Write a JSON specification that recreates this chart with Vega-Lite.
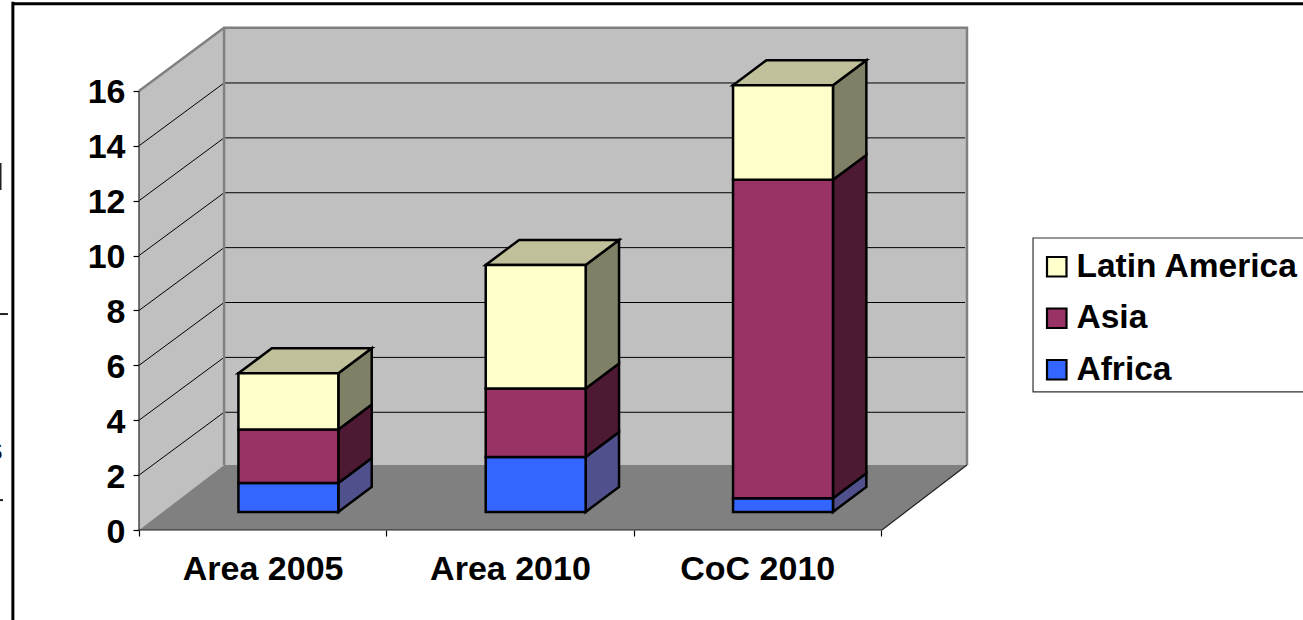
{
  "$schema": "https://vega.github.io/schema/vega-lite/v6.json",
  "width": 828,
  "height": 503,
  "autosize": {"type": "none"},
  "padding": {"left": 139, "top": 27, "right": 336, "bottom": 90},
  "background": "white",
  "config": {
    "view": {"stroke": null},
    "font": "Liberation Sans",
    "axis": {"grid": false, "title": null, "domain": false, "labelFont": "Liberation Sans", "labelFontWeight": "bold", "labelFontSize": 34, "labelColor": "black", "tickColor": "black", "tickWidth": 1.2, "tickSize": 6, "labelOverlap": false, "labelFlush": false}
  },
  "datasets": {
    "shares": [
      {"category": "Area 2005", "series": "Africa", "value": 1.05},
      {"category": "Area 2005", "series": "Asia", "value": 1.95},
      {"category": "Area 2005", "series": "Latin America", "value": 2.05},
      {"category": "Area 2010", "series": "Africa", "value": 2.0},
      {"category": "Area 2010", "series": "Asia", "value": 2.5},
      {"category": "Area 2010", "series": "Latin America", "value": 4.5},
      {"category": "CoC 2010", "series": "Africa", "value": 0.5},
      {"category": "CoC 2010", "series": "Asia", "value": 11.6},
      {"category": "CoC 2010", "series": "Latin America", "value": 3.45}
    ],
    "levels": [
      {"level": 2}, {"level": 4}, {"level": 6}, {"level": 8},
      {"level": 10}, {"level": 12}, {"level": 14}, {"level": 16}
    ],
    "wallEdge": [
      {"step": 1, "x": 0, "level": 16},
      {"step": 2, "x": 0.344, "level": 18.3},
      {"step": 3, "x": 3.348, "level": 18.3},
      {"step": 4, "x": 3.348, "level": 2.37}
    ],
    "sideWall": [
      {"x": 0, "low": 0, "high": 16},
      {"x": 0.344, "low": 2.37, "high": 18.3}
    ],
    "floor": [
      {"level": 0, "from": 0, "to": 3.004},
      {"level": 2.37, "from": 0.344, "to": 3.348}
    ]
  },
  "layer": [
    {
      "data": {"values": [{"x": 0.344, "x2": 3.348, "low": 2.37, "high": 18.3}]},
      "mark": {"type": "rect", "fill": "#C0C0C0"},
      "encoding": {
        "x": {"field": "x", "type": "quantitative", "scale": {"domain": [0, 3.348], "nice": false, "zero": false},
          "axis": {
            "values": [0, 0.5, 1, 1.5, 2, 2.5, 3],
            "labelExpr": "datum.value === 0.5 ? 'Area 2005' : datum.value === 1.5 ? 'Area 2010' : datum.value === 2.5 ? 'CoC 2010' : ''",
            "tickOpacity": {"condition": {"test": "datum.value % 1 !== 0", "value": 0}, "value": 1},
            "labelPadding": 16,
            "labelBaseline": "top"
          }},
        "x2": {"field": "x2"},
        "y": {"field": "low", "type": "quantitative", "scale": {"domain": [0, 18.33], "nice": false, "zero": false},
          "axis": {"values": [0, 2, 4, 6, 8, 10, 12, 14, 16], "labelPadding": 8, "labelOffset": 2}},
        "y2": {"field": "high"}
      }
    },
    {
      "data": {"name": "sideWall"},
      "mark": {"type": "area", "fill": "#C0C0C0"},
      "encoding": {
        "x": {"field": "x", "type": "quantitative"},
        "y": {"field": "low", "type": "quantitative"},
        "y2": {"field": "high"}
      }
    },
    {
      "data": {"name": "floor"},
      "mark": {"type": "area", "orient": "horizontal", "fill": "#808080"},
      "encoding": {
        "y": {"field": "level", "type": "quantitative"},
        "x": {"field": "from", "type": "quantitative"},
        "x2": {"field": "to"}
      }
    },
    {
      "data": {"name": "levels"},
      "transform": [
        {"filter": "datum.level < 16"},
        {"calculate": "datum.level + 2.29", "as": "backLevel"},
        {"calculate": "0.344", "as": "xWall"},
        {"calculate": "3.34", "as": "xEnd"}
      ],
      "mark": {"type": "rule", "color": "black", "strokeWidth": 1},
      "encoding": {
        "x": {"field": "xWall", "type": "quantitative"},
        "x2": {"field": "xEnd"},
        "y": {"field": "backLevel", "type": "quantitative"}
      }
    },
    {
      "data": {"name": "levels"},
      "transform": [
        {"filter": "datum.level < 16"},
        {"calculate": "datum.level + 2.29", "as": "backLevel"},
        {"calculate": "0", "as": "xFront"},
        {"calculate": "0.344", "as": "xWall"}
      ],
      "mark": {"type": "rule", "color": "black", "strokeWidth": 1},
      "encoding": {
        "x": {"field": "xFront", "type": "quantitative"},
        "x2": {"field": "xWall"},
        "y": {"field": "level", "type": "quantitative"},
        "y2": {"field": "backLevel"}
      }
    },
    {
      "data": {"name": "wallEdge"},
      "mark": {"type": "line", "color": "#808080", "strokeWidth": 2.5, "clip": false},
      "encoding": {
        "x": {"field": "x", "type": "quantitative"},
        "y": {"field": "level", "type": "quantitative"},
        "order": {"field": "step"}
      }
    },
    {
      "data": {"values": [{"x": 0.344, "low": 2.37, "high": 18.3}]},
      "mark": {"type": "rule", "color": "#808080", "strokeWidth": 2.5},
      "encoding": {
        "x": {"field": "x", "type": "quantitative"},
        "y": {"field": "low", "type": "quantitative"},
        "y2": {"field": "high"}
      }
    },
    {
      "data": {"values": [{"x": 0, "low": 0, "high": 16}]},
      "mark": {"type": "rule", "color": "#202020", "strokeWidth": 1.2},
      "encoding": {
        "x": {"field": "x", "type": "quantitative"},
        "y": {"field": "low", "type": "quantitative"},
        "y2": {"field": "high"}
      }
    },
    {
      "data": {"values": [
        {"x": 0, "x2": 3.004, "y": 0, "y2": 0},
        {"x": 3.004, "x2": 3.348, "y": 0, "y2": 2.37}
      ]},
      "mark": {"type": "rule", "color": "#202020", "strokeWidth": 1.2},
      "encoding": {
        "x": {"field": "x", "type": "quantitative"},
        "x2": {"field": "x2"},
        "y": {"field": "y", "type": "quantitative"},
        "y2": {"field": "y2"}
      }
    },
    {
      "data": {"name": "shares"},
      "transform": [
        {"stack": "value", "groupby": ["category"], "sort": [{"field": "series", "order": "ascending"}], "as": ["start", "end"]},
        {"calculate": "indexof(['Area 2005', 'Area 2010', 'CoC 2010'], datum.category)", "as": "slot"},
        {"calculate": "[0, 1]", "as": "edge"},
        {"flatten": ["edge"]},
        {"calculate": "datum.slot + 0.806 + datum.edge * 0.135", "as": "sideX"},
        {"calculate": "datum.start + 0.66 + datum.edge * 0.91", "as": "sideLow"},
        {"calculate": "datum.end + 0.66 + datum.edge * 0.91", "as": "sideHigh"},
        {"calculate": "datum.series + ' side'", "as": "face"}
      ],
      "mark": {"type": "area", "stroke": "black", "strokeWidth": 2.5, "strokeJoin": "miter"},
      "encoding": {
        "x": {"field": "sideX", "type": "quantitative"},
        "y": {"field": "sideLow", "type": "quantitative"},
        "y2": {"field": "sideHigh"},
        "detail": {"field": "category"},
        "fill": {"field": "face", "type": "nominal", "legend": null,
          "scale": {"domain": ["Latin America side", "Asia side", "Africa side"], "range": ["#808066", "#4D1933", "#50508C"]}}
      }
    },
    {
      "data": {"name": "shares"},
      "transform": [
        {"stack": "value", "groupby": ["category"], "sort": [{"field": "series", "order": "ascending"}], "as": ["start", "end"]},
        {"filter": "datum.series === 'Latin America'"},
        {"calculate": "indexof(['Area 2005', 'Area 2010', 'CoC 2010'], datum.category)", "as": "slot"},
        {"calculate": "[0, 1]", "as": "edge"},
        {"flatten": ["edge"]},
        {"calculate": "datum.slot + 0.402 + datum.edge * 0.135", "as": "topLeft"},
        {"calculate": "datum.slot + 0.806 + datum.edge * 0.135", "as": "topRight"},
        {"calculate": "datum.end + 0.66 + datum.edge * 0.91", "as": "topLevel"}
      ],
      "mark": {"type": "area", "orient": "horizontal", "fill": "#C0C09A", "stroke": "black", "strokeWidth": 2.5, "strokeJoin": "miter"},
      "encoding": {
        "y": {"field": "topLevel", "type": "quantitative"},
        "x": {"field": "topLeft", "type": "quantitative"},
        "x2": {"field": "topRight"},
        "detail": {"field": "category"}
      }
    },
    {
      "data": {"values": [{"x": 3.615, "x2": 5.4, "low": 5.03, "high": 10.64}]},
      "mark": {"type": "rect", "fill": "white", "stroke": "#303030", "strokeWidth": 1.2, "clip": false},
      "encoding": {
        "x": {"field": "x", "type": "quantitative"},
        "x2": {"field": "x2"},
        "y": {"field": "low", "type": "quantitative"},
        "y2": {"field": "high"}
      }
    },
    {
      "data": {"name": "shares"},
      "transform": [
        {"stack": "value", "groupby": ["category"], "sort": [{"field": "series", "order": "ascending"}], "as": ["start", "end"]},
        {"calculate": "indexof(['Area 2005', 'Area 2010', 'CoC 2010'], datum.category)", "as": "slot"},
        {"calculate": "datum.slot + 0.402", "as": "left"},
        {"calculate": "datum.slot + 0.806", "as": "right"},
        {"calculate": "datum.start + 0.66", "as": "low"},
        {"calculate": "datum.end + 0.66", "as": "high"}
      ],
      "mark": {"type": "rect", "stroke": "black", "strokeWidth": 2.5},
      "encoding": {
        "x": {"field": "left", "type": "quantitative"},
        "x2": {"field": "right"},
        "y": {"field": "low", "type": "quantitative"},
        "y2": {"field": "high"},
        "color": {"field": "series", "type": "nominal",
          "scale": {"domain": ["Latin America", "Asia", "Africa"], "range": ["#FFFFCC", "#993366", "#3366FF"]},
          "legend": {
            "title": null, "orient": "none", "legendX": 901, "legendY": 223,
            "padding": 0,
            "symbolType": "square", "symbolSize": 380, "symbolStrokeColor": "black", "symbolStrokeWidth": 2.2,
            "labelFont": "Liberation Sans", "labelFontWeight": "bold", "labelFontSize": 33.5, "labelColor": "black",
            "labelLimit": 400, "rowPadding": 16.5, "labelOffset": 3
          }}
      }
    },
    {
      "data": {"values": [{"x": -0.51, "low": -3.3, "high": 19.25}]},
      "mark": {"type": "rule", "color": "black", "strokeWidth": 3},
      "encoding": {
        "x": {"field": "x", "type": "quantitative"},
        "y": {"field": "low", "type": "quantitative"},
        "y2": {"field": "high"}
      }
    },
    {
      "data": {"values": [{"x": -0.51, "x2": 4.71, "level": 19.18}]},
      "mark": {"type": "rule", "color": "black", "strokeWidth": 3},
      "encoding": {
        "x": {"field": "x", "type": "quantitative"},
        "x2": {"field": "x2"},
        "y": {"field": "level", "type": "quantitative"}
      }
    },
    {
      "data": {"values": [
        {"x": -0.56, "x2": -0.56, "y": 12.39, "y2": 13.37},
        {"x": -0.565, "x2": -0.53, "y": 7.87, "y2": 7.87},
        {"x": -0.565, "x2": -0.55, "y": 1.09, "y2": 1.09}
      ]},
      "mark": {"type": "rule", "color": "#202020", "strokeWidth": 2},
      "encoding": {
        "x": {"field": "x", "type": "quantitative"},
        "x2": {"field": "x2"},
        "y": {"field": "y", "type": "quantitative"},
        "y2": {"field": "y2"}
      }
    },
    {
      "data": {"values": [{"x": -0.55, "level": 2.9, "glyph": "s"}]},
      "mark": {"type": "text", "align": "right", "baseline": "middle", "font": "Liberation Sans", "fontWeight": "bold", "fontSize": 33, "color": "black"},
      "encoding": {
        "x": {"field": "x", "type": "quantitative"},
        "y": {"field": "level", "type": "quantitative"},
        "text": {"field": "glyph"}
      }
    }
  ]
}
